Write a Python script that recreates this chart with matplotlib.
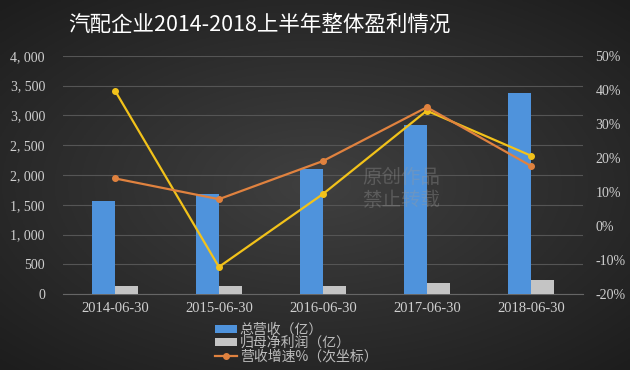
import numpy as np
import matplotlib.pyplot as plt
from matplotlib.ticker import FuncFormatter

plt.rcParams['font.family'] = ['Noto Sans CJK SC', 'DejaVu Sans']

# data
dates = ['2014-06-30', '2015-06-30', '2016-06-30', '2017-06-30', '2018-06-30']
revenue = [1563, 1680, 2100, 2840, 3370]          # 总营收（亿）
net_profit = [135, 135, 135, 190, 235]            # 归母净利润（亿）
rev_growth = [14.0, 7.9, 19.1, 34.9, 17.7]        # 营收增速%（次坐标）
profit_growth = [39.8, -12.0, 9.4, 33.9, 20.7]    # 净利增速%（次坐标）

fig = plt.figure(figsize=(6.3, 3.7), dpi=100)

# dark radial background
bg = fig.add_axes([0, 0, 1, 1], zorder=-10)
yy, xx = np.mgrid[-1:1:200j, -1:1:300j]
r = np.clip(np.sqrt((xx * 0.85) ** 2 + (yy * 0.9) ** 2), 0, 1.3)
g = 0.25 - 0.11 * r
bg.imshow(np.dstack([g, g, g]), aspect='auto', extent=[0, 1, 0, 1])
bg.axis('off')

ax = fig.add_axes([0.1, 0.205, 0.825, 0.644])
ax.set_facecolor('none')
x = np.arange(len(dates))
w = 0.22
ax.bar(x - w / 2, revenue, w, color='#4f93dc', label='总营收（亿）', zorder=3)
ax.bar(x + w / 2, net_profit, w, color='#c4c4c4', label='归母净利润（亿）', zorder=3)
ax.set_xlim(-0.5, 4.5)
ax.set_ylim(0, 4000)
ax.set_yticks(np.arange(0, 4001, 500))
ax.yaxis.set_major_formatter(FuncFormatter(lambda v, p: f'{int(v):,}'.replace(',', ', ')))
ax.set_xticks(x)
ax.set_xticklabels(dates)
ax.grid(axis='y', color='#555555', lw=0.8, zorder=0)
for s in ['top', 'right', 'left']:
    ax.spines[s].set_visible(False)
ax.spines['bottom'].set_color('#666666')
ax.tick_params(axis='y', length=0, colors='#cfcfcf', labelsize=10, pad=13)
ax.tick_params(axis='x', length=0, colors='#cfcfcf', labelsize=10.5, pad=6)
for lab in ax.get_xticklabels() + ax.get_yticklabels():
    lab.set_family(['Liberation Serif', 'DejaVu Serif'])

ax2 = ax.twinx()
ax2.plot(x, rev_growth, color='#e0823f', lw=1.6, marker='o', ms=4,
         label='营收增速%（次坐标）', zorder=5)
ax2.plot(x, profit_growth, color='#f2c21a', lw=1.6, marker='o', ms=4, zorder=4)
ax2.set_ylim(-20, 50)
ax2.set_yticks(np.arange(-20, 51, 10))
ax2.yaxis.set_major_formatter(FuncFormatter(lambda v, p: f'{int(v)}%'))
for s in ax2.spines.values():
    s.set_visible(False)
ax2.tick_params(length=0, colors='#cfcfcf', labelsize=10, pad=9)
for lab in ax2.get_yticklabels():
    lab.set_family(['Liberation Serif', 'DejaVu Serif'])

# watermark
fig.text(0.575, 0.49, '原创作品\n禁止转载', color='#9a9a9a', alpha=0.35,
         fontsize=14, linespacing=1.1, va='center', zorder=6)

fig.text(0.411, 0.932, '汽配企业2014-2018上半年整体盈利情况', color='white',
         fontsize=15.5, ha='center', va='center', fontweight='medium')

h1, l1 = ax.get_legend_handles_labels()
h2, l2 = ax2.get_legend_handles_labels()
leg = fig.legend(h1 + h2, l1 + l2, loc='upper left', bbox_to_anchor=(0.341, 0.128),
                 frameon=False, fontsize=10, labelcolor='#bdbdbd', handlelength=1.6,
                 handleheight=0.55, labelspacing=-0.05, handletextpad=0.2,
                 borderpad=0, borderaxespad=0)

fig.savefig('out.png', dpi=100)
